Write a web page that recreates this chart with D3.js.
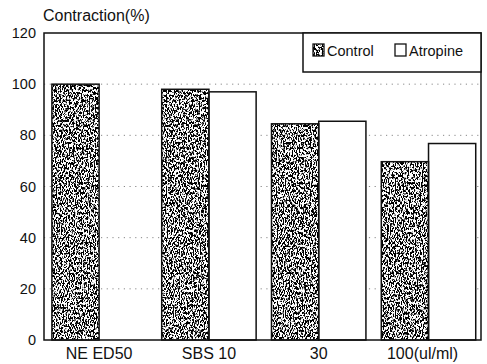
<!DOCTYPE html>
<html>
<head>
<meta charset="utf-8">
<script src="https://cdn.jsdelivr.net/npm/d3@7"></script>
<style>
  html, body { margin: 0; padding: 0; background: #fff; }
  svg { display: block; font-family: "Liberation Sans", Arial, Helvetica, sans-serif; }
</style>
</head>
<body>
<svg id="chart" width="487" height="364"></svg>
<script>
// Contraction of the preparation, control vs. after atropine
const categories = ["NE ED50", "SBS 10", "30", "100(ul/ml)"];
const seriesNames = ["Control", "Atropine"];
const controlValues = [100, 98, 84.5, 69.7];
const atropineValues = [0, 97, 85.5, 76.8];
const yTicks = [0, 20, 40, 60, 80, 100, 120];
const yTitle = "Contraction(%)";

const W = 487, H = 364;
const margin = { left: 44, right: 6, top: 33, bottom: 24 };
const svg = d3.select("#chart");

// Stippled fill for the control bars: thresholded noise, slightly stretched vertically
const defs = svg.append("defs");
const f = defs.append("filter").attr("id", "grain")
  .attr("x", 0).attr("y", 0).attr("width", 1).attr("height", 1)
  .attr("filterUnits", "objectBoundingBox");
f.append("feTurbulence").attr("type", "fractalNoise")
  .attr("baseFrequency", "0.85 0.4").attr("numOctaves", 3).attr("seed", 11).attr("result", "n");
f.append("feColorMatrix").attr("in", "n").attr("type", "matrix")
  .attr("values", "0 0 0 0 0  0 0 0 0 0  0 0 0 0 0  12 0 0 0 -5.6").attr("result", "m");
f.append("feComposite").attr("in", "m").attr("in2", "SourceGraphic").attr("operator", "in");

const x0 = d3.scaleBand().domain(categories)
  .range([margin.left, W - margin.right])
  .paddingInner(0.14).paddingOuter(0.06).align(0.6);
const x1 = d3.scaleBand().domain(seriesNames).range([0, x0.bandwidth()]);
const y = d3.scaleLinear().domain([0, 120]).range([H - margin.bottom, margin.top]);

const rows = categories.map((c, i) => ({
  cat: c,
  vals: [
    { s: "Control", v: controlValues[i] },
    { s: "Atropine", v: atropineValues[i] }
  ]
}));

// dotted gridlines
svg.append("g").selectAll("line")
  .data(yTicks.filter(t => t > 0 && t < 120))
  .join("line")
  .attr("x1", margin.left).attr("x2", W - margin.right)
  .attr("y1", d => y(d)).attr("y2", d => y(d))
  .attr("stroke", "#888").attr("stroke-width", 1)
  .attr("stroke-dasharray", "1.2,4.5");

// bars
const groups = svg.append("g").selectAll("g")
  .data(rows).join("g")
  .attr("transform", d => `translate(${x0(d.cat)},0)`);

groups.selectAll("rect.bg")
  .data(d => d.vals.filter(e => e.v > 0)).join("rect")
  .attr("class", "bg")
  .attr("x", d => x1(d.s)).attr("width", x1.bandwidth())
  .attr("y", d => y(d.v)).attr("height", d => y(0) - y(d.v))
  .attr("fill", "#fff");

groups.selectAll("rect.tex")
  .data(d => d.vals.filter(e => e.s === "Control")).join("rect")
  .attr("class", "tex")
  .attr("x", d => x1(d.s)).attr("width", x1.bandwidth())
  .attr("y", d => y(d.v)).attr("height", d => y(0) - y(d.v))
  .attr("fill", "#111").attr("filter", "url(#grain)");

groups.selectAll("rect.edge")
  .data(d => d.vals.filter(e => e.v > 0)).join("rect")
  .attr("class", "edge")
  .attr("x", d => x1(d.s)).attr("width", x1.bandwidth())
  .attr("y", d => y(d.v)).attr("height", d => y(0) - y(d.v))
  .attr("fill", "none").attr("stroke", "#111").attr("stroke-width", 1.5);

// plot frame
svg.append("rect")
  .attr("x", margin.left).attr("y", margin.top)
  .attr("width", W - margin.right - margin.left)
  .attr("height", y(0) - margin.top)
  .attr("fill", "none").attr("stroke", "#111").attr("stroke-width", 1.5);

// y axis labels
const yAxis = d3.axisLeft(y).tickValues(yTicks).tickSize(0).tickPadding(8);
const ya = svg.append("g").attr("transform", `translate(${margin.left},0)`).call(yAxis);
ya.select(".domain").remove();
ya.selectAll("text").attr("font-size", 14.5).attr("fill", "#111")
  .attr("font-family", "Liberation Sans, Arial, sans-serif");

// x axis labels
const xAxis = d3.axisBottom(x0).tickSize(0).tickPadding(8);
const xa = svg.append("g").attr("transform", `translate(0,${y(0)})`).call(xAxis);
xa.select(".domain").remove();
xa.selectAll("text").attr("font-size", 16).attr("fill", "#111")
  .attr("font-family", "Liberation Sans, Arial, sans-serif")
  .attr("dx", (d, i) => (i === categories.length - 1 ? -6 : 0));

// axis title
svg.append("text").attr("x", 43).attr("y", 21)
  .attr("font-size", 16).attr("fill", "#111").text(yTitle);

// legend
const lg = svg.append("g");
const lgX = 303, lgY = margin.top, lgW = W - margin.right - 303, lgH = 39;
lg.append("rect").attr("x", lgX).attr("y", lgY).attr("width", lgW).attr("height", lgH)
  .attr("fill", "#fff").attr("stroke", "#111").attr("stroke-width", 1.5);
const legendItems = [
  { name: seriesNames[0], sx: 313, tx: 327 },
  { name: seriesNames[1], sx: 395, tx: 409 }
];
legendItems.forEach((it, i) => {
  lg.append("rect").attr("x", it.sx).attr("y", 44).attr("width", 11).attr("height", 12)
    .attr("fill", "#fff");
  if (i === 0) {
    lg.append("rect").attr("x", it.sx).attr("y", 44).attr("width", 11).attr("height", 12)
      .attr("fill", "#111").attr("filter", "url(#grain)");
  }
  lg.append("rect").attr("x", it.sx).attr("y", 44).attr("width", 11).attr("height", 12)
    .attr("fill", "none").attr("stroke", "#111").attr("stroke-width", 1.3);
  lg.append("text").attr("x", it.tx).attr("y", 56).attr("font-size", 14.5)
    .attr("fill", "#111").text(it.name);
});
</script>
</body>
</html>
